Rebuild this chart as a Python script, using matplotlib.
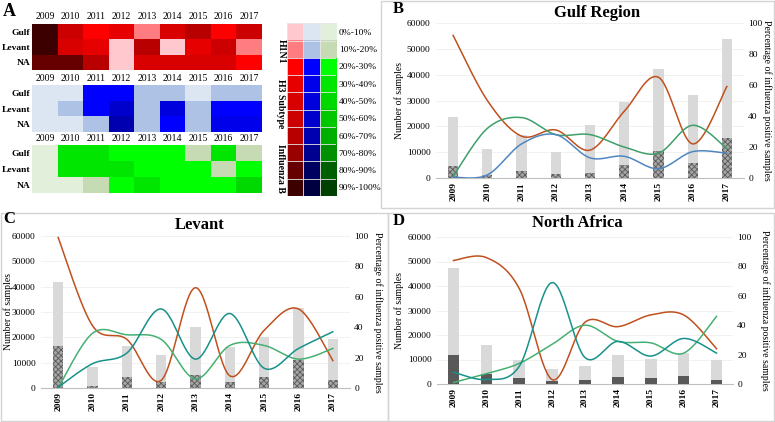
import numpy as np
import matplotlib
matplotlib.use('Agg')
import matplotlib.pyplot as plt
from matplotlib.colors import ListedColormap, BoundaryNorm, to_rgb
from matplotlib.patches import Rectangle

plt.rcParams['font.family'] = ['Liberation Serif', 'DejaVu Serif']
plt.rcParams['hatch.linewidth'] = 0.6

years = ['2009', '2010', '2011', '2012', '2013', '2014', '2015', '2016', '2017']
regions = ['Gulf', 'Levant', 'NA']

# heatmap: index of the 10%-bin (0 = 0%-10%, 9 = 90%-100%)
h1n1_bins = [[9, 5, 2, 3, 1, 4, 6, 2, 5],
             [9, 4, 3, 0, 6, 0, 3, 5, 1],
             [8, 8, 6, 0, 4, 4, 4, 4, 2]]
h3_bins = [[0, 0, 2, 2, 1, 1, 0, 1, 1],
           [0, 1, 2, 5, 1, 4, 1, 2, 2],
           [0, 0, 1, 6, 1, 2, 1, 3, 3]]
b_bins = [[0, 3, 3, 2, 2, 2, 1, 3, 1],
          [0, 3, 3, 3, 2, 2, 2, 1, 2],
          [0, 0, 1, 2, 3, 2, 2, 2, 4]]
bin_labels = ['0%-10%', '10%-20%', '20%-30%', '30%-40%', '40%-50%',
              '50%-60%', '60%-70%', '70%-80%', '80%-90%', '90%-100%']
reds = ['#FFC7CE', '#FF7C80', '#FF0000', '#E60000', '#D90000',
        '#CC0000', '#B80000', '#990000', '#660000', '#3D0000']
blues = ['#DCE6F2', '#AEC2E6', '#0000FF', '#0000EB', '#0000DD',
         '#0000CC', '#0000B0', '#000090', '#000060', '#000040']
greens = ['#E2EFDA', '#C6DBB4', '#00FF00', '#00E600', '#00D900',
          '#00C800', '#00B000', '#009000', '#006000', '#004000']

# Gulf region
gulf_total = [23500, 11200, 16500, 10000, 20500, 29400, 42300, 32000, 53700]
gulf_pos = [4800, 1200, 2900, 1700, 2100, 5000, 10500, 5700, 15500]
gulf_h1n1 = [92, 50, 27, 31, 18, 43, 65, 22, 59]
gulf_h3 = [0.5, 2, 22, 28, 13, 14, 6, 17, 16]
gulf_b = [1, 32, 39, 28, 28, 20, 16, 34, 19]
# Levant
levant_total = [41800, 8200, 16500, 13000, 24000, 16000, 20000, 31500, 19300]
levant_pos = [16500, 700, 4500, 2200, 5000, 2500, 4500, 11000, 3000]
levant_h1n1 = [99, 41, 32, 5, 66, 8, 38, 52, 18]
levant_h3 = [0.5, 16, 23, 52, 19, 49, 13, 26, 37]
levant_b = [0, 36, 35, 32, 6, 28, 28, 19, 26]
# North Africa
na_total = [47300, 16000, 10000, 6300, 7200, 12000, 10400, 12500, 9800]
na_pos = [12000, 4000, 2300, 1100, 1700, 3000, 2400, 3100, 1500]
na_h1n1 = [84, 86, 65, 3, 42, 39, 47, 47, 24]
na_h3 = [8, 3, 12, 69, 18, 29, 19, 31, 21]
na_b = [1, 7, 14, 27, 40, 29, 28, 21, 46]

W, H = 775, 422
fig = plt.figure(figsize=(W / 100, H / 100), dpi=100)


def rect(l, t, r, b):
    return [l / W, 1 - b / H, (r - l) / W, (b - t) / H]


def ftext(x, y, s, **kw):
    fig.text(x / W, 1 - y / H, s, **kw)


def box(l, t, r, b):
    fig.patches.append(Rectangle((l / W, 1 - b / H), (r - l) / W, (b - t) / H,
                                 transform=fig.transFigure, fill=False,
                                 edgecolor='#D4D4D4', lw=1))


def smooth(y, n=30):
    # excel-like smoothed line (catmull-rom as bezier)
    p = np.column_stack([np.arange(len(y)), np.asarray(y, float)])
    t = np.linspace(0, 1, n)[:, None]
    out = []
    for i in range(len(p) - 1):
        p0 = p[max(i - 1, 0)]
        p1, p2 = p[i], p[i + 1]
        p3 = p[min(i + 2, len(p) - 1)]
        c1 = p1 + (p2 - p0) / 6
        c2 = p2 - (p3 - p1) / 6
        seg = ((1 - t) ** 3) * p1 + 3 * ((1 - t) ** 2) * t * c1 + 3 * (1 - t) * t ** 2 * c2 + t ** 3 * p2
        out.append(seg)
    out = np.vstack(out)
    return out[:, 0], out[:, 1]


# ---------- panel A: heatmaps ----------
ftext(3, 11, 'A', fontsize=13, fontweight='bold', va='center')
blocks = [(h1n1_bins, reds, 24, 70), (h3_bins, blues, 85.3, 132), (b_bins, greens, 145.3, 193)]
for bins, cols, top, bot in blocks:
    ax = fig.add_axes(rect(32.3, top, 261.7, bot))
    cmap = ListedColormap(cols)
    norm = BoundaryNorm(np.arange(-0.5, 10.5, 1), cmap.N)
    ax.imshow(np.array(bins), cmap=cmap, norm=norm, aspect='auto', interpolation='nearest')
    ax.xaxis.tick_top()
    ax.set_xticks(range(9))
    ax.set_xticklabels(years, fontsize=7)
    ax.set_yticks(range(3))
    ax.set_yticklabels(regions, fontsize=6.8, fontweight='bold')
    ax.tick_params(axis='y', length=0, pad=1.5)
    ax.tick_params(axis='x', length=0, pad=2)
    for s in ax.spines.values():
        s.set_visible(False)

# legend
lax = fig.add_axes(rect(286.7, 23.3, 336, 196))
img = np.array([[to_rgb(reds[i]), to_rgb(blues[i]), to_rgb(greens[i])] for i in range(10)])
lax.imshow(img, aspect='auto', interpolation='nearest')
lax.set_xticks(np.arange(-0.5, 3, 1), minor=True)
lax.set_yticks(np.arange(-0.5, 10, 1), minor=True)
lax.grid(which='minor', color='#E8E8E8', lw=0.6)
lax.set_xticks([])
lax.yaxis.tick_right()
lax.set_yticks(range(10))
lax.set_yticklabels(bin_labels, fontsize=6.8)
lax.tick_params(which='both', length=0, pad=2)
for s in lax.spines.values():
    s.set_visible(False)
for txt, yc in [('H1N1', 51), ('H3 Subtype', 104), ('Influenza B', 168)]:
    ftext(281, yc, txt, rotation=270, fontsize=7, fontweight='bold', ha='center', va='center')


# ---------- panels B, C, D ----------
def panel(frame, letter, lxy, title, txy, axr, ylab_x, ylab2_x, total, pos, h1, h3, b,
          h3_color, b_color, width, pos_solid):
    box(*frame)
    ftext(lxy[0], lxy[1], letter, fontsize=12, fontweight='bold', va='center')
    ftext(txy[0], txy[1], title, fontsize=12, fontweight='bold', ha='center', va='center')
    ax = fig.add_axes(rect(*axr))
    x = np.arange(len(years))
    ax.bar(x, total, width=width, color='#D9D9D9', zorder=2)
    if pos_solid:
        ax.bar(x, pos, width=width, color='#595959', zorder=3)
    else:
        ax.bar(x, pos, width=width, facecolor='#A6A6A6', edgecolor='#595959',
               hatch='xxxxxx', lw=0, zorder=3)
    ax.set_ylim(0, 60000)
    ax.set_xlim(-0.5, len(years) - 0.5)
    ax.set_yticks(range(0, 60001, 10000))
    ax.yaxis.grid(True, color='#EFEFEF', lw=0.6, zorder=0)
    ax.set_axisbelow(True)
    ax.set_xticks(x)
    ax.set_xticklabels(years, rotation=90, fontsize=6.8, fontweight='bold')
    ax.tick_params(axis='y', labelsize=6.8, length=0, pad=4)
    ax.tick_params(axis='x', length=0, pad=3)
    ax.set_ylabel('Number of samples', fontsize=7, va='center')
    axw = axr[2] - axr[0]
    ax.yaxis.set_label_coords((ylab_x - axr[0]) / axw, 0.5)
    for k in ['top', 'left', 'right']:
        ax.spines[k].set_visible(False)
    ax.spines['bottom'].set_color('#BFBFBF')
    ax.spines['bottom'].set_linewidth(0.8)

    ax2 = ax.twinx()
    for vals, c in [(h1, '#C0501E'), (b, b_color), (h3, h3_color)]:
        xs, ys = smooth(vals)
        ax2.plot(xs, ys, color=c, lw=1.1)
    ax2.set_ylim(0, 100)
    ax2.set_yticks(range(0, 101, 20))
    ax2.tick_params(axis='y', labelsize=6.8, length=0, pad=3)
    ax2.set_ylabel('Percentage of influenza positive samples', fontsize=7,
                   rotation=270, va='center')
    ax2.yaxis.set_label_coords((ylab2_x - axr[0]) / axw, 0.5)
    for s in ax2.spines.values():
        s.set_visible(False)


panel((381, 1, 774, 208), 'B', (393, 9), 'Gulf Region', (597, 13),
      (436, 23, 744, 178), 399, 767, gulf_total, gulf_pos, gulf_h1n1, gulf_h3, gulf_b,
      '#4F86C0', '#3E9F68', 0.3, False)
panel((1, 213, 388, 421), 'C', (3, 219), 'Levant', (200, 225),
      (41, 236, 350, 388), 8, 378, levant_total, levant_pos, levant_h1n1, levant_h3, levant_b,
      '#17918A', '#45B072', 0.3, False)
panel((388, 213, 774, 421), 'D', (393, 221), 'North Africa', (577, 223),
      (437, 237, 733, 384), 399, 765, na_total, na_pos, na_h1n1, na_h3, na_b,
      '#17918A', '#45B072', 0.35, True)

fig.savefig('out.png', dpi=100)
